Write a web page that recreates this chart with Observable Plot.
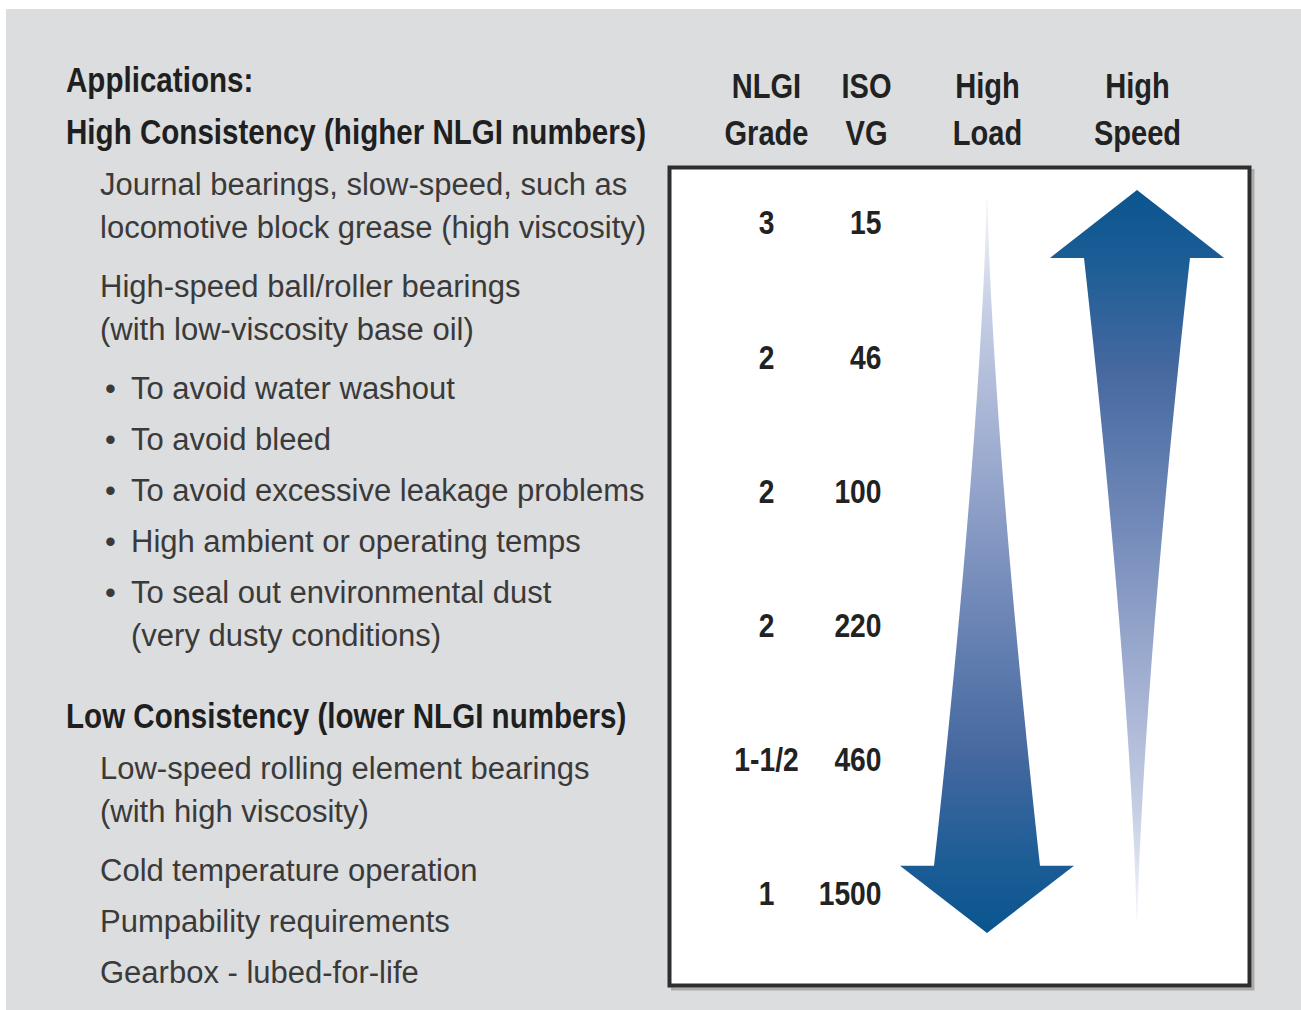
<!DOCTYPE html>
<html>
<head>
<meta charset="utf-8">
<script src="https://cdn.jsdelivr.net/npm/d3@7"></script>
<script src="https://cdn.jsdelivr.net/npm/@observablehq/plot@0.6"></script>
<style>
  html, body { margin: 0; padding: 0; background: #ffffff; }
  #page { position: relative; width: 1301px; height: 1010px; overflow: hidden; background: #ffffff; }
  #panel { position: absolute; left: 6px; top: 9px; right: 0; bottom: 0; background: #dcdddf; }
  #chart { position: absolute; left: 0; top: 0; }
  #apps { position: absolute; left: 0; top: 0; width: 668px; padding-top: 58px;
          font-family: "Liberation Sans", Arial, sans-serif; }
  .line { height: 43px; line-height: 43px; white-space: nowrap; position: relative; }
  .head { font-weight: bold; font-size: 35px; color: #1f1f1f; padding-left: 66px; }
  .head span { display: inline-block; transform: scaleX(0.845); transform-origin: 0 50%; }
  .item { font-size: 31px; color: #3a3a3a; padding-left: 100px; }
  .bullet { font-size: 31px; color: #3a3a3a; padding-left: 131px; }
  .dot { position: absolute; left: 105px; top: 0; }
</style>
</head>
<body>
<div id="page">
  <div id="panel"></div>
  <div id="chart"></div>
  <div id="apps"></div>
</div>
<script>
// ---------------- data ----------------
const appsTitle = "Applications:";
const highHeading = "High Consistency (higher NLGI numbers)";
const highApps = [
  ["Journal bearings, slow-speed, such as", "locomotive block grease (high viscosity)"],
  ["High-speed ball/roller bearings", "(with low-viscosity base oil)"]
];
const highBullets = [
  ["To avoid water washout"],
  ["To avoid bleed"],
  ["To avoid excessive leakage problems"],
  ["High ambient or operating temps"],
  ["To seal out environmental dust", "(very dusty conditions)"]
];
const lowHeading = "Low Consistency (lower NLGI numbers)";
const lowApps = [
  ["Low-speed rolling element bearings", "(with high viscosity)"],
  ["Cold temperature operation"],
  ["Pumpability requirements"],
  ["Gearbox - lubed-for-life"]
];
const columnHeaders = ["NLGI\nGrade", "ISO\nVG", "High\nLoad", "High\nSpeed"];
const nlgiGrade = ["3", "2", "2", "2", "1-1/2", "1"];
const isoVG = ["15", "46", "100", "220", "460", "1500"];
const trendArrows = [
  {column: "High\nLoad", direction: "down"},
  {column: "High\nSpeed", direction: "up"}
];

// ---------------- left column (text) ----------------
const apps = d3.select("#apps");
let prevLines = 0, prevKind = null;
function block(lines, kind) {
  let mt = 0;
  if (prevKind === null) mt = 0;
  else if (kind === "head") mt = prevKind === "head" ? 9 : 37;
  else if (prevKind === "head") mt = 10;
  else mt = prevLines > 1 ? 16 : 8;
  const b = apps.append("div").style("margin-top", mt + "px");
  lines.forEach((t, i) => {
    const l = b.append("div").attr("class", "line " + kind);
    if (kind === "bullet" && i === 0) l.append("span").attr("class", "dot").text("•");
    l.append("span").text(t);
  });
  prevLines = lines.length; prevKind = kind;
}
block([appsTitle], "head");
block([highHeading], "head");
highApps.forEach(a => block(a, "item"));
highBullets.forEach(a => block(a, "bullet"));
block([lowHeading], "head");
lowApps.forEach(a => block(a, "item"));

// ---------------- table + arrows ----------------
const rows = nlgiGrade.map((g, i) => ({row: i, nlgi: g, iso: isoVG[i]}));
const colIndex = c => columnHeaders.indexOf(c);

// arrow geometry in row units (row 0 = grade 3 ... row 5 = grade 1) and pixel widths
const arrowShape = {
  down: {tail: -0.17, headBase: 4.79, tip: 5.29},
  up:   {tail: 5.19, headBase: 0.26, tip: -0.246}
};
const headHalf = 87, shaftHalf = 53, tailHalf = 0.6, taperPow = 1.4;
const gradStops = [
  [0, "#f6f7fb"], [0.15, "#c5cee4"], [0.34, "#9fadd0"], [0.55, "#7088b8"],
  [0.76, "#44689f"], [0.9, "#1d5d96"], [1, "#0a558f"]
];

function arrowsMark(index, scales) {
  const g = d3.create("svg:g");
  const defs = g.append("defs");
  trendArrows.forEach((a, k) => {
    const s = arrowShape[a.direction];
    const id = "arrowGrad" + k;
    const lg = defs.append("linearGradient").attr("id", id)
      .attr("x1", 0).attr("x2", 0)
      .attr("y1", a.direction === "down" ? 0 : 1)
      .attr("y2", a.direction === "down" ? 1 : 0);
    gradStops.forEach(([o, c]) => lg.append("stop").attr("offset", o).attr("stop-color", c));
    const cx = scales.x(colIndex(a.column));
    const yT = scales.y(s.tail), yH = scales.y(s.headBase), yP = scales.y(s.tip);
    const left = [], right = [];
    const n = 60;
    for (let i = 0; i <= n; i++) {
      const t = i / n;
      const y = yT + t * (yH - yT);
      const h = tailHalf + (shaftHalf - tailHalf) * Math.pow(t, taperPow);
      left.push([cx - h, y]);
      right.push([cx + h, y]);
    }
    const pts = [...left, [cx - headHalf, yH], [cx, yP], [cx + headHalf, yH], ...right.reverse()];
    g.append("path")
      .attr("d", "M" + pts.map(p => p[0].toFixed(2) + "," + p[1].toFixed(2)).join("L") + "Z")
      .attr("fill", `url(#${id})`);
  });
  return g.node();
}

const fontFamily = "'Liberation Sans', Arial, sans-serif";
const chart = Plot.plot({
  width: 1301,
  height: 1010,
  marginLeft: 669,
  marginRight: 52,
  marginTop: 167,
  marginBottom: 25,
  x: {type: "linear", domain: [0, 1, 2, 3], range: [766, 866, 987, 1137], axis: null},
  y: {type: "linear", domain: [0, 5], range: [223, 894], axis: null},
  style: {background: "transparent", fontFamily, overflow: "visible"},
  marks: [
    Plot.frame({stroke: "#ababab", strokeWidth: 3, insetLeft: 3, insetTop: 3, insetRight: -3.5, insetBottom: -3.5}),
    Plot.frame({fill: "#ffffff", stroke: "#2e2e2e", strokeWidth: 4}),
    arrowsMark,
    Plot.text(columnHeaders, {
      x: (d, i) => i, text: d => d, frameAnchor: "top", lineAnchor: "middle", dy: -61, lineHeight: 1.34,
      fontSize: 35, fontWeight: "bold", fill: "#222222"
    }),
    Plot.text(rows, {
      x: () => 0, y: "row", text: "nlgi", textAnchor: "middle",
      fontSize: 34, fontWeight: "bold", fill: "#222222"
    }),
    Plot.text(rows, {
      x: () => 1, y: "row", text: "iso", textAnchor: "end", dx: 15,
      fontSize: 34, fontWeight: "bold", fill: "#222222"
    })
  ]
});
// condensed look: narrow every text horizontally around its own anchor
d3.select(chart).selectAll("text").each(function() {
  const t = this.getAttribute("transform") || "";
  this.setAttribute("transform", (t + " scale(0.83,1)").trim());
});
document.getElementById("chart").appendChild(chart);
</script>
</body>
</html>
